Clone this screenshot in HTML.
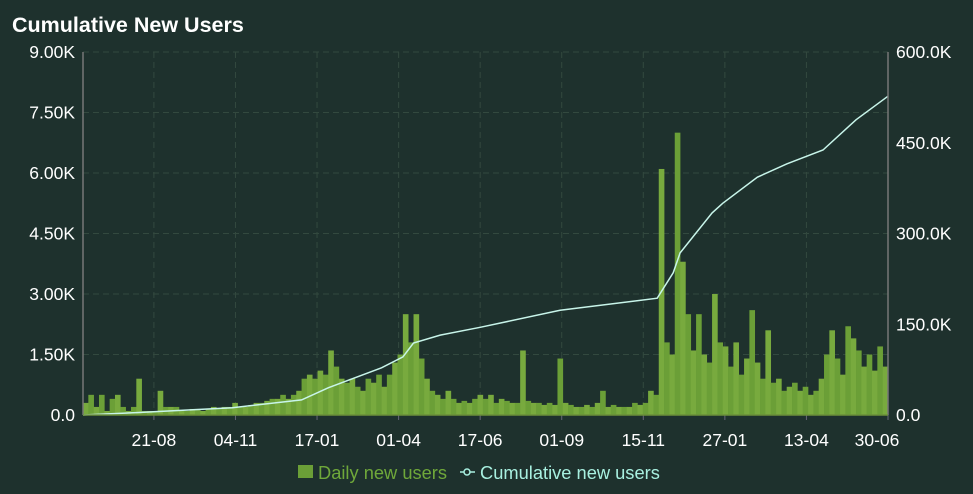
<!DOCTYPE html>
<html><head><meta charset="utf-8"><style>
html,body{margin:0;padding:0;background:#1e312d;width:973px;height:494px;overflow:hidden}
svg text{font-family:"Liberation Sans",sans-serif}
</style></head><body>
<svg id="chart" width="973" height="494" xmlns="http://www.w3.org/2000/svg">
<rect width="973" height="494" fill="#1e312d"/>
<text x="12" y="32" fill="#ffffff" font-size="21.5" font-weight="bold">Cumulative New Users</text>
<g id="grid"></g><g id="bars"></g><g id="line"></g><g id="axes"></g>
<g>
<rect x="298" y="465" width="15" height="13" fill="#6b9f37"/>
<text x="318" y="479" fill="#6fa83a" font-size="18.3">Daily new users</text>
<line x1="460" y1="472" x2="475" y2="472" stroke="#a8f0e0" stroke-width="1.5"/>
<circle cx="467" cy="472" r="3" fill="#1e312d" stroke="#a8f0e0" stroke-width="1.5"/>
<text x="480" y="479" fill="#a8f0e0" font-size="18.3">Cumulative new users</text>
</g>
</svg>
<script>
const dailyValues=[0.3,0.5,0.2,0.5,0.1,0.4,0.5,0.2,0.1,0.2,
0.9,0.1,0.1,0.1,0.6,0.2,0.2,0.2,0.1,
0.1,0.15,0.15,0.1,0.15,0.2,0.15,0.2,0.2,
0.3,0.2,0.2,0.25,0.3,0.3,0.35,0.4,0.4,0.5,0.4,0.5,0.6,
0.9,1.0,0.9,1.1,1.0,1.6,1.2,0.9,
0.8,0.9,0.7,0.6,0.9,0.8,1.0,0.7,
1.0,1.3,1.5,2.5,1.8,2.5,1.4,0.9,
0.6,0.5,0.4,0.6,0.4,0.3,0.35,0.3,0.4,
0.5,0.4,0.5,0.3,0.4,0.35,0.3,0.3,1.6,
0.35,0.3,0.3,0.25,0.3,0.25,1.4,0.3,
0.25,0.2,0.2,0.25,0.2,0.3,0.6,0.2,0.25,0.2,0.2,0.2,0.3,0.25,0.3,0.6,0.5,
6.1,1.8,1.5,7.0,3.8,2.5,1.6,2.5,1.5,1.3,3.0,1.8,1.7,1.2,1.8,1.0,1.4,2.6,1.3,
0.9,2.1,0.8,0.9,0.6,0.7,0.8,0.6,0.7,0.5,0.6,0.9,1.5,2.1,1.4,1.0,2.2,1.9,1.6,1.2,1.5,1.1,1.7,1.2];
const cumIndex=[0,10,28,41,46,56,60,62,67,74.5,89.5,107.7,110.7,112,118,120,126.5,132,138.8,145,151];
const cumValues=[0,4,12,25,45,78,96,119,132,145,173,193,235,268,334,350,393,415,438,488,527];
const leftTicks=["0.0","1.50K","3.00K","4.50K","6.00K","7.50K","9.00K"];
const leftTickValues=[0,1.5,3,4.5,6,7.5,9];
const rightTicks=["0.0","150.0K","300.0K","450.0K","600.0K"];
const rightTickValues=[0,150,300,450,600];
const xLabels=["21-08","04-11","17-01","01-04","17-06","01-09","15-11","27-01","13-04","30-06"];
const xLabelBins=[13.3,28.6,43.9,59.2,74.5,89.8,105.1,120.4,135.7,151];

const NS="http://www.w3.org/2000/svg";
const X0=83,X1=888,Y0=415,Y1=52,N=dailyValues.length;
const xs=b=>X0+(X1-X0)*b/N;
const yl=v=>Y0-(Y0-Y1)*v/9;
const yr=v=>Y0-(Y0-Y1)*v/600;
function mk(tag,attrs,parent){const e=document.createElementNS(NS,tag);for(const k in attrs)e.setAttribute(k,attrs[k]);document.getElementById(parent).appendChild(e);return e;}

leftTickValues.forEach((v,i)=>{
  const g=mk('line',{x1:X0,x2:X1,y1:yl(v),y2:yl(v),stroke:'#33493f','stroke-dasharray':'6 4','stroke-width':1},'grid');
  
  
  const t=mk('text',{x:75,y:yl(v)+6,'text-anchor':'end',fill:'#ffffff','font-size':17.5},'axes');
  t.textContent=leftTicks[i];
  
  
});
rightTickValues.forEach((v,i)=>{
  const t=mk('text',{x:896,y:yr(v)+6,fill:'#ffffff','font-size':17.5},'axes');
  t.textContent=rightTicks[i];
  
  
});
xLabels.forEach((l,i)=>{
  const x=xs(xLabelBins[i]);
  const g=mk('line',{x1:x,x2:x,y1:Y1,y2:Y0,stroke:'#33493f','stroke-dasharray':'6 4'},'grid');
  
  
  const tk=mk('line',{x1:x,x2:x,y1:Y0,y2:Y0+5,stroke:'#667'},'axes');
  
  
  const t=mk('text',{x:Math.min(x,877),y:446,'text-anchor':'middle',fill:'#ffffff','font-size':17.5},'axes');
  t.textContent=l;
  
  
});
const bw=(X1-X0)/N;
dailyValues.forEach((v,i)=>{
  const r=mk('rect',{x:xs(i),y:yl(v),width:bw+0.3,height:Y0-yl(v),fill:i%2?'#6b9f37':'#78aa3e'},'bars');
  
  
});
const pts=cumIndex.map((b,i)=>xs(b).toFixed(1)+','+yr(cumValues[i]).toFixed(1)).join(' ');
const pl=mk('polyline',{points:pts,fill:'none',stroke:'#c8f5ea','stroke-width':1.5},'line');


[[X0,X0,Y1,Y0,'left-axis-line','#777'],[X1,X1,Y1,Y0,'right-axis-line','#777'],[X0,X1,Y0,Y0,'x-axis-line','#6b8f3a']].forEach(a=>{
  const l=mk('line',{x1:a[0],x2:a[1],y1:a[2],y2:a[3],stroke:a[5],'stroke-width':1.5},'axes');
  
  
});
</script>
</body></html>
